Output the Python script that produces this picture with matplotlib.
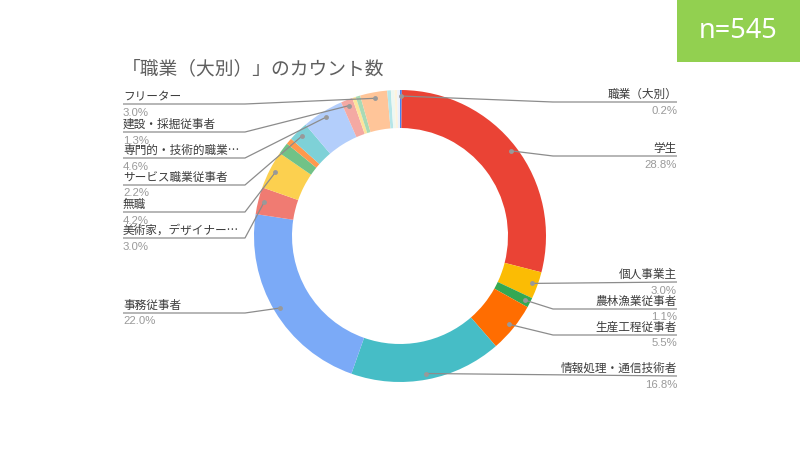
import numpy as np
import matplotlib
matplotlib.use("Agg")
import matplotlib.pyplot as plt

plt.rcParams['font.family'] = ['Noto Sans CJK JP', 'DejaVu Sans']

# ---- data (slices clockwise from 12 o'clock) ----
categories = ['職業（大別）', '学生', '個人事業主', '農林漁業従事者', '生産工程従事者',
              '情報処理・通信技術者', '事務従事者', '美術家，デザイナー…', '無職',
              '', '', 'サービス職業従事者', '専門的・技術的職業…', '建設・採掘従事者',
              '', '', 'フリーター', '', '', '', '']
values = [0.2, 28.8, 3.0, 1.1, 5.5, 16.8, 22.0, 3.0, 4.2,
          1.3, 0.7, 2.2, 4.6, 1.3, 0.4, 0.5, 3.0, 0.4, 0.4, 0.3, 0.3]
colors = ['#4285f4', '#ea4335', '#fbbc04', '#34a853', '#ff6d01', '#46bdc6',
          '#7baaf7', '#f07b72', '#fcd04f', '#71c287', '#ff994d', '#7ed1d7',
          '#b3cefb', '#f4a9a3', '#fde49b', '#a8dab5', '#ffc599', '#b5e5e8',
          '#eef7f1', '#fdf3dd', '#eaf1fd']
title = '「職業（大別）」のカウント数'
n_text = 'n=545'

# ---- layout (pixel coords, y from top) ----
W, H = 800, 450
cx, cy, R, ring = 400, 236, 146, 38
dot_r = 140
right_labels = {0: 102, 1: 156, 2: 282, 3: 309, 4: 335, 5: 376}
left_labels = {16: 104, 13: 132, 12: 158, 11: 185, 8: 212, 7: 238, 6: 313}
right_x, right_knee = 677, 553
left_x, left_knee = 123, 245

fig = plt.figure(figsize=(8, 4.5), dpi=100)
ax = fig.add_axes([0, 0, 1, 1])

def Y(y):
    return H - y

ax.pie(values, colors=colors, startangle=90, counterclock=False,
       radius=R, center=(cx, Y(cy)), frame=True,
       wedgeprops=dict(width=ring, edgecolor='none', linewidth=0))
ax.set_xlim(0, W)
ax.set_ylim(0, H)
ax.set_aspect('equal')
ax.axis('off')

vals = np.array(values, dtype=float)
cum = np.cumsum(vals) - vals / 2
mid_deg = 90 - 360 * cum / vals.sum()
px = cx + dot_r * np.cos(np.radians(mid_deg))
py = Y(cy) + dot_r * np.sin(np.radians(mid_deg))

line_col = '#8c8c8c'
name_col = '#3c3c3c'
pct_col = '#9a9a9a'
fs = 8.4
name_off, pct_off = 7.5, 8.5

def draw_label(i, ly, side):
    yl = Y(ly)
    if side == 'right':
        if abs(py[i] - yl) > 3:
            xs, ys = [px[i], right_knee, right_x], [py[i], yl, yl]
        else:
            xs, ys = [px[i], right_x], [py[i], yl]
        tx, ha = right_x, 'right'
    else:
        if abs(py[i] - yl) > 3:
            xs, ys = [left_x, left_knee, px[i]], [yl, yl, py[i]]
        else:
            xs, ys = [left_x, px[i]], [yl, py[i]]
        tx, ha = left_x, 'left'
    ax.plot(xs, ys, color=line_col, lw=0.9, solid_capstyle='butt')
    ax.plot(px[i], py[i], 'o', ms=3.5, color='#999999', mec='none')
    ax.text(tx, yl + name_off, categories[i], ha=ha, va='center',
            fontsize=fs, color=name_col)
    ax.text(tx, yl - pct_off, f'{values[i]:.1f}%', ha=ha, va='center',
            fontsize=8.2, color=pct_col,
            family=['Liberation Sans', 'DejaVu Sans'])

for i, ly in right_labels.items():
    draw_label(i, ly, 'right')
for i, ly in left_labels.items():
    draw_label(i, ly, 'left')

# title
ax.text(122, Y(69), title, ha='left', va='center', fontsize=13.5, color='#5f5f5f')

# n box
ax.add_patch(plt.Rectangle((677, Y(62)), W - 677, 62, color='#92d050', lw=0))
ax.text(738, Y(31), n_text, ha='center', va='center', fontsize=19.5,
        color='white', family=['Noto Sans', 'DejaVu Sans'])

fig.savefig('out.png', dpi=100)
